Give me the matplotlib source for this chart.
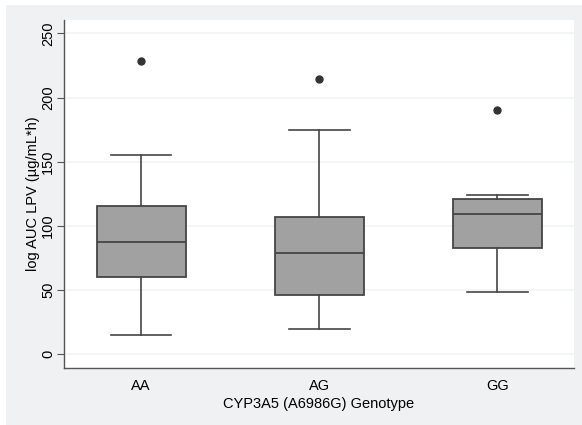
import matplotlib
matplotlib.use("Agg")
import matplotlib.pyplot as plt
from matplotlib.patches import Rectangle

plt.rcParams['font.family'] = ['Liberation Sans', 'DejaVu Sans']

genotypes = ["AA", "AG", "GG"]
whisker_low = [15, 19.5, 48.5]
q1 = [60, 46, 83]
median = [87.5, 79, 109]
q3 = [115.5, 107, 120.5]
whisker_high = [155, 174.5, 124]
outliers = [[228.5], [214.5], [190]]

yticks = [0, 50, 100, 150, 200, 250]

stats = []
for i, g in enumerate(genotypes):
    stats.append(dict(label=g, whislo=whisker_low[i], q1=q1[i], med=median[i],
                      q3=q3[i], whishi=whisker_high[i], fliers=outliers[i]))

fig = plt.figure(figsize=(5.82, 4.25), dpi=100, facecolor="white")
fig.patches.append(Rectangle((6 / 582, 0), 1, 1 - 5 / 425, transform=fig.transFigure,
                             facecolor="#eff1f3", edgecolor="none", zorder=-10))
ax = fig.add_axes([64 / 582, 1 - 368 / 425, 510 / 582, 348 / 425])
ax.set_facecolor("white")

edge = "#454545"
ax.bxp(stats, positions=[1, 2, 3], widths=0.5, capwidths=0.34, patch_artist=True,
       boxprops=dict(facecolor="#a1a1a1", edgecolor=edge, linewidth=1.3),
       medianprops=dict(color=edge, linewidth=1.3),
       whiskerprops=dict(color=edge, linewidth=1.2),
       capprops=dict(color=edge, linewidth=1.2),
       flierprops=dict(marker="o", markerfacecolor="#333333", markeredgecolor="#333333",
                       markersize=5))

ax.set_xlim(0.567, 3.43)
ax.set_ylim(-11, 260.5)
ax.set_yticks(yticks)
ax.set_yticklabels([str(t) for t in yticks], rotation=90, va="center")
ax.yaxis.grid(True, color="#f1f3f5", linewidth=1.2)
ax.set_axisbelow(True)

for s in ["top", "right"]:
    ax.spines[s].set_visible(False)
for s in ["left", "bottom"]:
    ax.spines[s].set_color("#555555")
    ax.spines[s].set_linewidth(1.0)

ax.tick_params(axis="y", direction="out", length=5, color="#555555", labelsize=10.5, pad=1.5)
ax.tick_params(axis="x", length=0, labelsize=10.5, pad=8)
ax.set_ylabel("log AUC LPV (µg/mL*h)", fontsize=10.5, labelpad=1)
ax.set_xlabel("CYP3A5 (A6986G) Genotype", fontsize=10.5, labelpad=3)

fig.savefig("out.png", dpi=100, facecolor=fig.get_facecolor())
